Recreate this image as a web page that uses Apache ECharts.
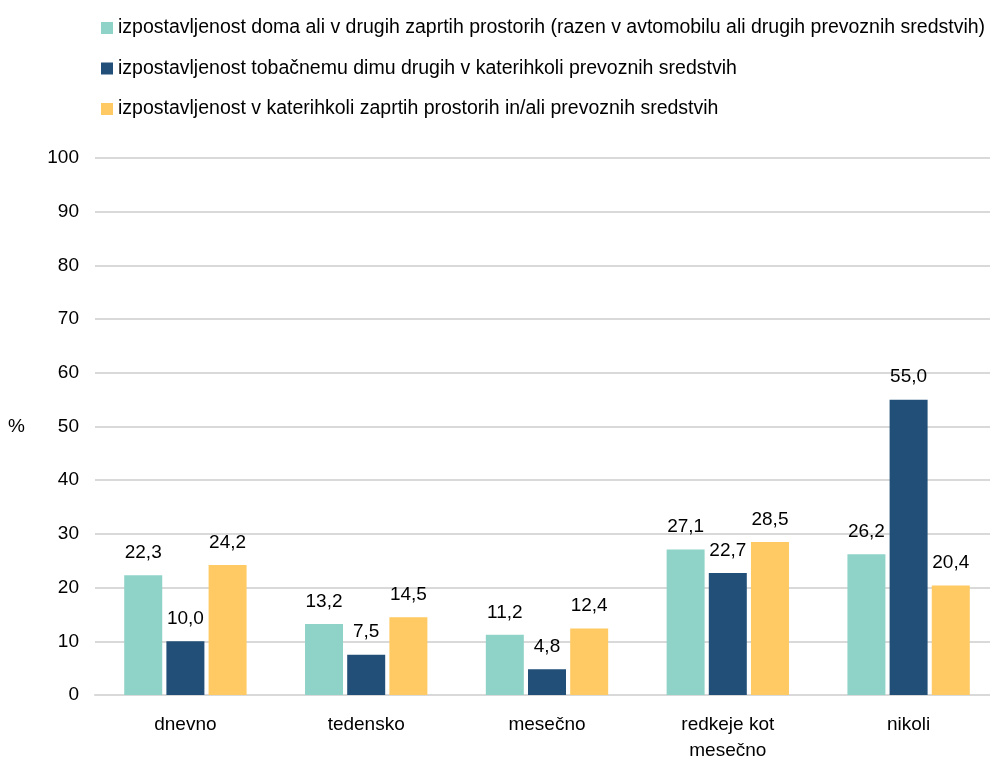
<!DOCTYPE html>
<html lang="sl">
<head>
    <meta charset="UTF-8">
    <title>Izpostavljenost tobačnemu dimu</title>
    <script src="https://cdn.jsdelivr.net/npm/echarts@6/dist/echarts.min.js"></script>
    <style>
        html, body { margin: 0; padding: 0; background: #fff; }
    </style>
</head>
<body>
    <div id="chart" style="width:990px;height:762px;"></div>
    <script>
        // kategorije in vrednosti (%)
        var categories = ['dnevno', 'tedensko', 'mesečno', 'redkeje kot\nmesečno', 'nikoli'];
        var seriesNames = [
            'izpostavljenost doma ali v drugih zaprtih prostorih (razen v avtomobilu ali drugih prevoznih sredstvih)',
            'izpostavljenost tobačnemu dimu drugih v katerihkoli prevoznih sredstvih',
            'izpostavljenost v katerihkoli zaprtih prostorih in/ali prevoznih sredstvih'
        ];
        var doma = [22.3, 13.2, 11.2, 27.1, 26.2];
        var prevoz = [10.0, 7.5, 4.8, 22.7, 55.0];
        var zaprti = [24.2, 14.5, 12.4, 28.5, 20.4];
        var colors = ['#8fd3c8', '#214f78', '#ffca63'];

        var font = '"Liberation Sans", Arial, sans-serif';

        function makeSeries(name, data, color) {
            return {
                name: name,
                type: 'bar',
                data: data,
                barWidth: 38,
                barGap: '11%',
                itemStyle: { color: color },
                label: {
                    show: true,
                    position: 'top',
                    distance: 13,
                    color: '#000',
                    fontFamily: font,
                    fontSize: 19,
                    formatter: function (p) {
                        return p.value.toFixed(1).replace('.', ',');
                    }
                }
            };
        }

        var chart = echarts.init(document.getElementById('chart'));
        var option = {
            animation: false,
            textStyle: { fontFamily: font },
            legend: {
                orient: 'vertical',
                left: 96,
                top: 13,
                itemWidth: 12,
                itemHeight: 12,
                itemGap: 20.5,
                icon: 'rect',
                textStyle: { fontSize: 19.5, color: '#000', fontFamily: font },
                data: seriesNames
            },
            grid: {
                left: 95,
                right: -9,
                top: 158,
                bottom: 67,
                outerBoundsMode: 'none'
            },
            xAxis: {
                type: 'category',
                data: categories,
                axisTick: { show: false },
                axisLine: { lineStyle: { color: '#d9d9d9', width: 2 } },
                axisLabel: { color: '#000', fontSize: 19, fontFamily: font, margin: 17, lineHeight: 26 }
            },
            yAxis: {
                type: 'value',
                min: 0,
                max: 100,
                interval: 10,
                name: '%',
                nameLocation: 'middle',
                nameRotate: 0,
                nameGap: 70,
                nameTextStyle: { color: '#000', fontSize: 19, fontFamily: font },
                axisLabel: { color: '#000', fontSize: 19, fontFamily: font, margin: 16 },
                splitLine: { lineStyle: { color: '#d9d9d9', width: 2 } }
            },
            series: [
                makeSeries(seriesNames[0], doma, colors[0]),
                makeSeries(seriesNames[1], prevoz, colors[1]),
                makeSeries(seriesNames[2], zaprti, colors[2])
            ]
        };
        chart.setOption(option);
    </script>
</body>
</html>
